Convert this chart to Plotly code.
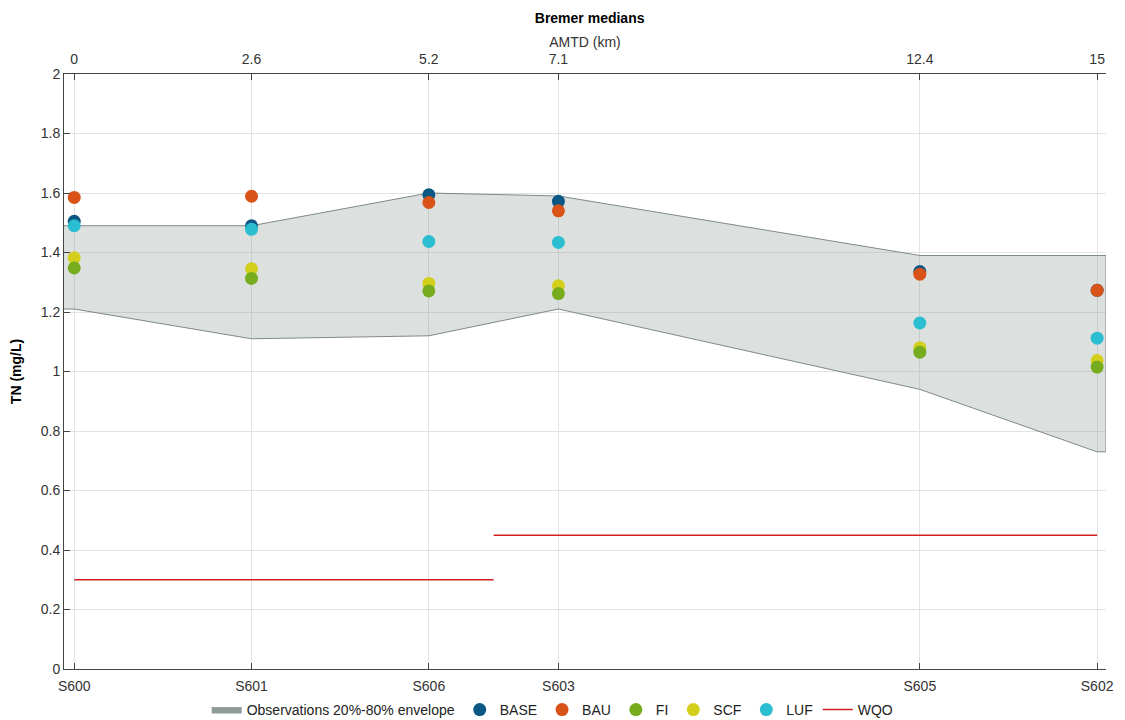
import plotly.graph_objects as go

sites = ["S600", "S601", "S606", "S603", "S605", "S602"]
amtd = [0, 2.6, 5.2, 7.1, 12.4, 15]
amtd_labels = ["0", "2.6", "5.2", "7.1", "12.4", "15"]

base = [1.505, 1.490, 1.594, 1.572, 1.336, 1.273]
bau = [1.585, 1.589, 1.568, 1.540, 1.327, 1.273]
fi = [1.348, 1.313, 1.271, 1.262, 1.065, 1.015]
scf = [1.382, 1.345, 1.296, 1.288, 1.080, 1.037]
luf = [1.490, 1.478, 1.437, 1.434, 1.163, 1.112]

env_upper = [1.49, 1.49, 1.60, 1.59, 1.39, 1.39]
env_lower = [1.21, 1.11, 1.12, 1.21, 0.94, 0.73]

wqo_x = [[0, 6.15], [6.15, 15]]
wqo_y = [0.30, 0.45]

XR = [-0.15, 15.13]
FONT = "Liberation Sans, Arial, sans-serif"

fig = go.Figure()

# envelope polygon (extends to the axis edges)
ex = [XR[0]] + amtd + [XR[1]]
eu = [env_upper[0]] + env_upper + [env_upper[-1]]
el = [env_lower[0]] + env_lower + [env_lower[-1]]
fig.add_trace(go.Scatter(
    x=ex + ex[::-1], y=eu + el[::-1], fill="toself",
    fillcolor="rgba(140,155,152,0.30)", line=dict(color="#7f8987", width=1),
    name="Observations 20%-80% envelope", mode="lines", showlegend=False,
    hoverinfo="skip"))
# legend entry for the envelope (solid patch as in the reference)
fig.add_trace(go.Scatter(
    x=[None], y=[None], fill="toself", fillcolor="#8e9b98",
    line=dict(color="#8e9b98", width=1), mode="lines",
    name="Observations 20%-80% envelope", legendrank=1, hoverinfo="skip"))

series = [
    ("BASE", base, "#0b5784", 2),
    ("BAU", bau, "#d95319", 3),
    ("SCF", scf, "#d3cf1c", 5),
    ("FI", fi, "#77ac1f", 4),
    ("LUF", luf, "#2bbdd0", 6),
]
for name, vals, col, rank in series:
    fig.add_trace(go.Scatter(
        x=amtd, y=vals, mode="markers", name=name, legendrank=rank,
        marker=dict(color=col, size=13, line=dict(width=0))))

wx, wy = [], []
for seg, v in zip(wqo_x, wqo_y):
    wx += seg + [None]
    wy += [v, v, None]
fig.add_trace(go.Scatter(x=wx, y=wy, mode="lines", name="WQO", legendrank=7,
                         line=dict(color="#d02020", width=1.5)))

# top axis dummy trace
fig.add_trace(go.Scatter(x=amtd, y=[None] * len(amtd), xaxis="x2",
                         showlegend=False, hoverinfo="skip"))

W, H = 1125, 720
axcol = "#444444"
fig.update_layout(
    width=W, height=H,
    margin=dict(l=56, r=27, t=66, b=59, autoexpand=False),
    paper_bgcolor="white", plot_bgcolor="white",
    font=dict(family=FONT, size=14, color="#333333"),
    title=dict(text="<b>Bremer medians</b>", x=0.517, xanchor="center",
               y=1 - 10 / H, yref="container", yanchor="middle",
               font=dict(size=14, color="black")),
    xaxis=dict(range=XR, tickvals=amtd, ticktext=sites, showgrid=True,
               gridcolor="#e3e3e3", ticks="inside", ticklen=6, tickcolor=axcol,
               showline=True, linecolor=axcol, zeroline=False, automargin=False,
               ticklabelstandoff=4,
               tickfont=dict(size=14, color="#333333")),
    xaxis2=dict(range=XR, tickvals=amtd, ticktext=amtd_labels, overlaying="x",
                side="top", showgrid=False, ticks="inside", ticklen=6,
                tickcolor=axcol, showline=True, linecolor=axcol, zeroline=False,
                automargin=False, ticklabelstandoff=3,
                title=dict(text="AMTD (km)", standoff=0,
                           font=dict(size=14, color="#333333")),
                tickfont=dict(size=14, color="#333333")),
    yaxis=dict(range=[0, 2], dtick=0.2, showgrid=True, gridcolor="#e3e3e3",
               ticks="inside", ticklen=6, tickcolor=axcol, showline=True,
               linecolor=axcol, zeroline=False, tickformat="~g", automargin=False,
               title=dict(text="<b>TN (mg/L)</b>", standoff=18,
                          font=dict(size=14, color="black")),
               tickfont=dict(size=14, color="#333333")),
    legend=dict(orientation="h", x=0.469, xanchor="center", y=18 / H,
                yref="container", yanchor="middle",
                font=dict(size=14, color="#222222"),
                bgcolor="rgba(0,0,0,0)", itemwidth=30, traceorder="normal"),
    showlegend=True,
)

fig.write_html("out.html")
